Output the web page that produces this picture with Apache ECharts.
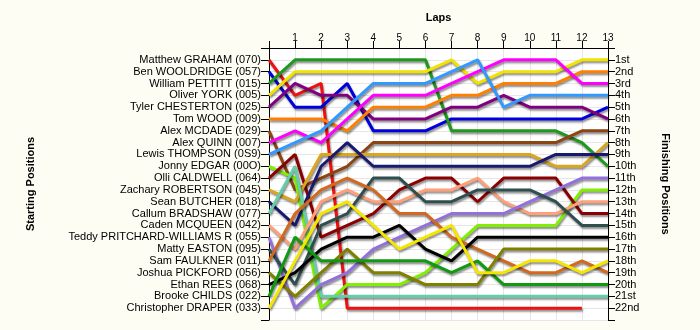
<!DOCTYPE html>
<html>
<head>
<meta charset="utf-8">
<script src="https://cdn.jsdelivr.net/npm/echarts@6/dist/echarts.min.js"></script>
<style>
  html, body { margin: 0; padding: 0; background: #fdfdf4; }
  #chart { width: 700px; height: 330px; }
</style>
</head>
<body>
<div id="chart"></div>
<script>
// Drivers in starting order (grid position 1..22)
const drivers = [
  'Matthew GRAHAM (070)', 'Ben WOOLDRIDGE (057)', 'William PETTITT (015)', 'Oliver YORK (005)',
  'Tyler CHESTERTON (025)', 'Tom WOOD (009)', 'Alex MCDADE (029)', 'Alex QUINN (007)',
  'Lewis THOMPSON (0S9)', 'Jonny EDGAR (00O)', 'Olli CALDWELL (064)', 'Zachary ROBERTSON (045)',
  'Sean BUTCHER (018)', 'Callum BRADSHAW (077)', 'Caden MCQUEEN (042)', 'Teddy PRITCHARD-WILLIAMS R (055)',
  'Matty EASTON (095)', 'Sam FAULKNER (011)', 'Joshua PICKFORD (056)', 'Ethan REES (068)',
  'Brooke CHILDS (022)', 'Christopher DRAPER (033)'
];

// Lap numbers shown on the top axis (lap 0 = grid)
const laps = [0, 1, 2, 3, 4, 5, 6, 7, 8, 9, 10, 11, 12, 13];

// Finishing position labels
const finishLabels = ['1st','2nd','3rd','4th','5th','6th','7th','8th','9th','10th','11th',
  '12th','13th','14th','15th','16th','17th','18th','19th','20th','21st','22nd'];

// Running position of each driver at the end of every lap (same order as drivers)
const graham     = [1, 4, 3, 22, 22, 22, 22, 22, 22, 22, 22, 22, 22];
const wooldridge = [2, 5, 5, 3, 7, 7, 7, 6, 6, 6, 6, 6, 6, 5];
const pettitt    = [3, 1, 1, 1, 1, 1, 1, 7, 7, 7, 7, 7, 8, 10];
const york       = [4, 2, 2, 2, 2, 2, 2, 1, 3, 2, 2, 2, 1, 1];
const chesterton = [5, 3, 4, 4, 6, 6, 6, 5, 5, 4, 5, 5, 5, 6];
const wood       = [6, 6, 6, 7, 5, 5, 5, 4, 4, 3, 3, 3, 2, 2];
const mcdade     = [7, 12, 11, 10, 8, 8, 8, 8, 8, 8, 8, 8, 7, 7];
const quinn      = [8, 7, 8, 6, 4, 4, 4, 3, 2, 1, 1, 1, 3, 3];
const thompson   = [9, 8, 7, 5, 3, 3, 3, 2, 1, 5, 4, 4, 4, 4];
const edgar      = [10, 11, 22, 20, 20, 20, 19, 17, 15, 15, 15, 15, 12, 12];
const caldwell   = [11, 9, 16, 15, 14, 12, 11, 11, 13, 11, 11, 11, 14, 14];
const robertson  = [12, 13, 9, 9, 9, 9, 9, 9, 9, 9, 9, 10, 10, 8];
const butcher    = [13, 15, 10, 8, 10, 10, 10, 10, 10, 10, 10, 9, 9, 9];
const bradshaw   = [14, 10, 21, 21, 21, 21, 21, 21, 21, 21, 21, 21, 21, 21];
const mcqueen    = [15, 17, 13, 12, 13, 13, 12, 12, 11, 13, 14, 14, 13, 13];
const pritchard  = [16, 22, 20, 19, 17, 16, 15, 14, 14, 14, 13, 12, 11, 11];
const easton     = [17, 20, 15, 14, 11, 11, 13, 13, 12, 12, 12, 13, 15, 15];
const faulkner   = [18, 14, 12, 11, 12, 14, 14, 16, 17, 18, 19, 19, 18, 19];
const pickford   = [19, 21, 19, 17, 19, 19, 20, 20, 20, 17, 17, 17, 17, 17];
const rees       = [20, 19, 17, 16, 16, 15, 17, 18, 16, 16, 16, 16, 16, 16];
const childs     = [21, 16, 18, 18, 18, 18, 18, 19, 18, 20, 20, 20, 20, 20];
const draper     = [22, 18, 14, 13, 15, 17, 16, 15, 19, 19, 18, 18, 19, 18];

const positions = [graham, wooldridge, pettitt, york, chesterton, wood, mcdade, quinn,
  thompson, edgar, caldwell, robertson, butcher, bradshaw, mcqueen, pritchard,
  easton, faulkner, pickford, rees, childs, draper];

// Line colour per driver
const palette = [
  '#ee1111', '#0000dd', '#1d9a1d', '#f2e200', '#800080', '#ff8000', '#8b4513', '#ff00ff',
  '#3399ff', '#80f000', '#8b0000', '#daa520', '#191970', '#66cdaa', '#ffa07a', '#9370db',
  '#2f4f4f', '#d2691e', '#808000', '#000000', '#119911', '#f5e600'
];

const FONT = "'Liberation Sans', Arial, sans-serif";

const series = drivers.map((name, i) => ({
  name: name,
  type: 'line',
  xAxisIndex: 0,
  yAxisIndex: 0,
  symbol: 'none',
  silent: true,
  data: positions[i].map((p, k) => [laps[k], p]),
  lineStyle: {
    color: palette[i],
    width: 3,
    shadowColor: 'rgba(0,0,0,0.45)',
    shadowBlur: 2,
    shadowOffsetX: 1,
    shadowOffsetY: 2
  },
  itemStyle: { color: palette[i] }
}));

const chart = echarts.init(document.getElementById('chart'), null, { renderer: 'canvas' });
chart.setOption({
  backgroundColor: '#fdfdf4',
  animation: false,
  textStyle: { fontFamily: FONT },
  grid: {
    left: 269, right: 92, top: 48, bottom: 10,
    show: true, backgroundColor: '#ffffff', borderWidth: 0
  },
  xAxis: {
    type: 'value',
    position: 'top',
    min: 0, max: 13, interval: 1,
    name: 'Laps',
    nameLocation: 'middle',
    nameGap: 25,
    nameTextStyle: { fontFamily: FONT, fontWeight: 'bold', fontSize: 11, color: '#000' },
    axisLine: { show: true, lineStyle: { color: '#000', width: 1 } },
    axisTick: { show: true, length: 7, lineStyle: { color: '#000' } },
    axisLabel: {
      fontFamily: FONT, fontSize: 10, color: '#000', margin: 5,
      formatter: v => (v === 0 ? '' : String(v))
    },
    splitLine: { show: true, lineStyle: { color: '#e6e6e6', width: 1 } }
  },
  yAxis: [
    {
      type: 'value',
      position: 'left',
      inverse: true,
      min: 0, max: 23, interval: 1,
      name: 'Starting Positions',
      nameLocation: 'middle',
      nameRotate: 90,
      nameGap: 233,
      nameTextStyle: { fontFamily: FONT, fontWeight: 'bold', fontSize: 11, color: '#000' },
      axisLine: { show: true, lineStyle: { color: '#000', width: 1 } },
      axisTick: { show: true, length: 8, lineStyle: { color: '#000' } },
      axisLabel: {
        fontFamily: FONT, fontSize: 11, color: '#000', margin: 8,
        formatter: v => (v >= 1 && v <= drivers.length ? drivers[v - 1] : '')
      },
      splitLine: { show: true, lineStyle: { color: '#e6e6e6', width: 1 } }
    },
    {
      type: 'value',
      position: 'right',
      inverse: true,
      min: 0, max: 23, interval: 1,
      name: 'Finishing Positions',
      nameLocation: 'middle',
      nameRotate: -90,
      nameGap: 52,
      nameTextStyle: { fontFamily: FONT, fontWeight: 'bold', fontSize: 11, color: '#000' },
      axisLine: { show: true, lineStyle: { color: '#000', width: 1 } },
      axisTick: { show: true, length: 7, lineStyle: { color: '#000' } },
      axisLabel: {
        fontFamily: FONT, fontSize: 11, color: '#000', margin: 7,
        formatter: v => (v >= 1 && v <= finishLabels.length ? finishLabels[v - 1] : '')
      },
      splitLine: { show: false }
    }
  ],
  series: series
});
</script>
</body>
</html>
